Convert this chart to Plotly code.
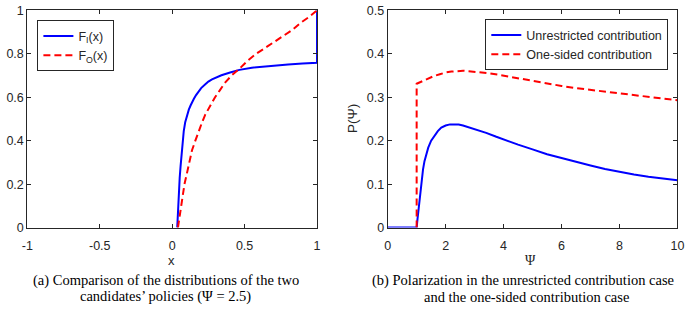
import plotly.graph_objects as go

# ---- Data: panel (a) ----
fi_x = [0.035, 0.038, 0.041, 0.044, 0.047, 0.052, 0.058, 0.063, 0.069, 0.075, 0.08, 0.09,
        0.103, 0.115, 0.127, 0.137, 0.15, 0.165, 0.182, 0.2, 0.225, 0.25, 0.275, 0.3, 0.34,
        0.4, 0.464, 0.55, 0.62, 0.7, 0.8, 0.9, 1.0, 1.0]
fi_y = [0.0, 0.05, 0.1, 0.14, 0.18, 0.23, 0.282, 0.33, 0.371, 0.41, 0.444, 0.485,
        0.518, 0.543, 0.562, 0.577, 0.593, 0.61, 0.628, 0.642, 0.657, 0.672, 0.682, 0.69, 0.701,
        0.714, 0.726, 0.736, 0.741, 0.746, 0.751, 0.755, 0.759, 1.0]
fo_x = [0.04, 0.05, 0.06, 0.069, 0.085, 0.103, 0.12, 0.137, 0.16, 0.182, 0.205, 0.227, 0.26,
        0.295, 0.33, 0.362, 0.41, 0.464, 0.52, 0.58, 0.66, 0.75, 0.83, 0.885, 0.95, 1.0]
fo_y = [0.0, 0.05, 0.095, 0.135, 0.2, 0.253, 0.305, 0.356, 0.4, 0.444, 0.482, 0.518, 0.56,
        0.599, 0.633, 0.665, 0.70, 0.731, 0.768, 0.80, 0.835, 0.873, 0.91, 0.942, 0.972, 1.0]

# ---- Data: panel (b) ----
un_x = [0, 1.0, 1.03, 1.07, 1.1, 1.14, 1.18, 1.22, 1.27, 1.33, 1.4, 1.5, 1.6, 1.73, 1.85,
        2.0, 2.15, 2.3, 2.45, 2.6, 2.8, 3.1, 3.4, 3.75, 4.1, 4.5, 5.0, 5.5, 6.0, 6.5, 7.0,
        7.5, 8.0, 8.5, 9.0, 9.5, 10]
un_y = [0, 0, 0.02, 0.047, 0.07, 0.09, 0.113, 0.134, 0.153, 0.171, 0.184, 0.2, 0.211, 0.222,
        0.23, 0.235, 0.2375, 0.238, 0.237, 0.235, 0.231, 0.225, 0.218, 0.209, 0.2, 0.191,
        0.18, 0.169, 0.16, 0.151, 0.143, 0.135, 0.128, 0.122, 0.117, 0.113, 0.109]
os_x = [1, 1, 1.2, 1.4, 1.6, 1.8, 2.0, 2.2, 2.4, 2.6, 2.8, 3.0, 3.2, 3.5, 3.8, 4.2, 4.6, 5,
        5.5, 6, 6.5, 7, 7.5, 8, 8.5, 9, 9.5, 10]
os_y = [0, 0.331, 0.337, 0.343, 0.349, 0.353, 0.357, 0.359, 0.36, 0.361, 0.36, 0.359, 0.358,
        0.355, 0.352, 0.347, 0.342, 0.337, 0.331, 0.326, 0.321, 0.317, 0.313, 0.309, 0.305,
        0.301, 0.297, 0.293]

xa_ticks = [-1, -0.5, 0, 0.5, 1]
xa_text = ["-1", "-0.5", "0", "0.5", "1"]
ya_ticks = [0, 0.2, 0.4, 0.6, 0.8, 1]
ya_text = ["0", "0.2", "0.4", "0.6", "0.8", "1"]
xb_ticks = [0, 2, 4, 6, 8, 10]
yb_ticks = [0, 0.1, 0.2, 0.3, 0.4, 0.5]
yb_text = ["0", "0.1", "0.2", "0.3", "0.4", "0.5"]

W, H = 691, 311
BLUE = "#0000ff"
RED = "#ff0000"
AX = "#262626"
DASH = "7px,4px"
TF = 12.5

fig = go.Figure()
fig.add_trace(go.Scatter(x=fi_x, y=fi_y, mode="lines", name="F<sub>I</sub>(x)",
                         line=dict(color=BLUE, width=2), xaxis="x", yaxis="y", legend="legend"))
fig.add_trace(go.Scatter(x=fo_x, y=fo_y, mode="lines", name="F<sub>O</sub>(x)",
                         line=dict(color=RED, width=2, dash=DASH), xaxis="x", yaxis="y", legend="legend"))
fig.add_trace(go.Scatter(x=un_x, y=un_y, mode="lines", name="Unrestricted contribution",
                         line=dict(color=BLUE, width=2), xaxis="x2", yaxis="y2", legend="legend2"))
fig.add_trace(go.Scatter(x=os_x, y=os_y, mode="lines", name="One-sided contribution",
                         line=dict(color=RED, width=2, dash=DASH), xaxis="x2", yaxis="y2", legend="legend2"))

axis_common = dict(showgrid=False, zeroline=False, showline=True, linecolor=AX, linewidth=1,
                   mirror="ticks", ticks="inside", ticklen=4, tickwidth=1, tickcolor=AX,
                   ticklabeloverflow="allow",
                   tickfont=dict(family="Liberation Sans", size=TF, color=AX))

ydom = [80 / H, 307.5 / H]
fig.update_layout(
    width=W, height=H, autosize=False,
    margin=dict(l=0, r=0, t=0, b=0),
    paper_bgcolor="white", plot_bgcolor="white",
    xaxis=dict(domain=[21.7 / W, 317 / W], range=[-1, 1], tickvals=xa_ticks, ticktext=xa_text,
               anchor="y", ticklabelstandoff=6, **axis_common),
    yaxis=dict(domain=ydom, range=[0, 1], tickvals=ya_ticks, ticktext=ya_text,
               anchor="x", **axis_common),
    xaxis2=dict(domain=[389 / W, 684.3 / W], range=[0, 10], tickvals=xb_ticks,
                anchor="y2", ticklabelstandoff=6, **axis_common),
    yaxis2=dict(domain=ydom, range=[0, 0.5], tickvals=yb_ticks, ticktext=yb_text,
                anchor="x2", **axis_common),
    legend=dict(x=32 / W, y=1 - 14 / H, xanchor="left", yanchor="top",
                bgcolor="white", bordercolor=AX, borderwidth=1,
                font=dict(family="Liberation Sans", size=TF, color=AX),
                tracegroupgap=0, itemwidth=30),
    legend2=dict(x=675 / W, y=1 - 13 / H, xanchor="right", yanchor="top",
                 bgcolor="white", bordercolor=AX, borderwidth=1,
                 font=dict(family="Liberation Sans", size=TF, color=AX),
                 tracegroupgap=0, itemwidth=30),
    showlegend=True,
)

ann = []
def add_text(px, py, text, size=12, family="Liberation Sans", angle=0, color=AX, pad=1):
    ann.append(dict(x=px / W, y=1 - py / H, xref="paper", yref="paper", text=text,
                    showarrow=False, xanchor="center", yanchor="middle", textangle=angle,
                    borderpad=pad,
                    font=dict(family=family, size=size, color=color)))

add_text(169, 265, "x", size=13, pad=0)
add_text(535, 265, "Ψ", size=14, family="Liberation Serif", pad=0)
add_text(353, 117, "P(Ψ)", size=13.5, angle=-90)
add_text(163.5, 286, "(a) Comparison of the distributions of the two", size=14.5,
         family="Liberation Serif", color="black", pad=0)
add_text(162.5, 303.5, "candidates’ policies (Ψ = 2.5)", size=14.5,
         family="Liberation Serif", color="black", pad=0)
add_text(526.5, 286, "(b) Polarization in the unrestricted contribution case", size=14.5,
         family="Liberation Serif", color="black", pad=0)
add_text(530, 303.5, "and the one-sided contribution case", size=14.5,
         family="Liberation Serif", color="black", pad=0)
fig.update_layout(annotations=ann)

fig.write_html("out.html")
